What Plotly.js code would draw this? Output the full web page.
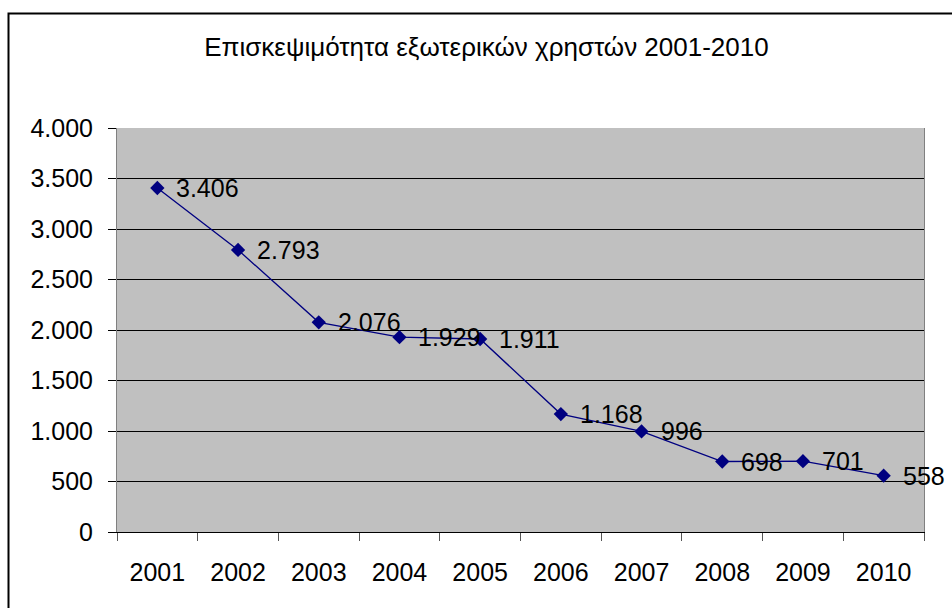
<!DOCTYPE html>
<html>
<head>
<meta charset="utf-8">
<script src="https://cdn.plot.ly/plotly-3.0.1.min.js"></script>
<style>
html,body{margin:0;padding:0;background:#fff;}
#chart{width:952px;height:608px;}
</style>
</head>
<body>
<div id="chart"></div>
<script>
const chartTitle = "Επισκεψιμότητα εξωτερικών χρηστών 2001-2010";
const years = ["2001","2002","2003","2004","2005","2006","2007","2008","2009","2010"];
const visitors = [3406, 2793, 2076, 1929, 1911, 1168, 996, 698, 701, 558];

function fmt(v){
  return String(v).replace(/\B(?=(\d{3})+(?!\d))/g, ".");
}

const FONT = "Arial, 'Liberation Sans', sans-serif";
const navy = "#000080";

const trace = {
  x: years,
  y: visitors,
  type: "scatter",
  mode: "lines+markers",
  line: {color: navy, width: 1.3},
  marker: {symbol: "diamond", size: 11, color: navy},
  hoverinfo: "skip",
  cliponaxis: false
};

const annotations = years.map((yr, i) => ({
  x: i, y: visitors[i], xref: "x", yref: "y",
  text: fmt(visitors[i]),
  showarrow: false,
  xanchor: "left", yanchor: "middle",
  xshift: 17, yshift: 0,
  font: {family: FONT, size: 25, color: "#000"}
}));

const layout = {
  width: 952, height: 608,
  margin: {l: 117, r: 28, t: 128, b: 76, pad: 0},
  paper_bgcolor: "#ffffff",
  plot_bgcolor: "#c0c0c0",
  separators: ",.",
  showlegend: false,
  font: {family: FONT, color: "#000"},
  title: {
    text: chartTitle,
    font: {family: FONT, size: 26, color: "#000"},
    xref: "container", x: 0.511, xanchor: "center",
    yref: "container", y: 1 - 47/608, yanchor: "middle"
  },
  xaxis: {
    type: "category",
    range: [-0.5, 9.5],
    showgrid: false,
    zeroline: false,
    showline: true, linecolor: "#000", linewidth: 1,
    ticks: "outside", tickson: "boundaries", ticklen: 8, tickwidth: 1, tickcolor: "#555",
    tickfont: {family: FONT, size: 25, color: "#000"},
    ticklabelstandoff: 18
  },
  yaxis: {
    range: [0, 4000],
    dtick: 500,
    tickformat: ",d",
    showgrid: true, gridcolor: "#000", gridwidth: 1,
    zeroline: false,
    showline: true, linecolor: "#808080", linewidth: 1, mirror: true,
    ticks: "outside", ticklen: 8, tickwidth: 1, tickcolor: "#000",
    tickfont: {family: FONT, size: 25, color: "#000"},
    ticklabelstandoff: 10
  },
  annotations: annotations,
  shapes: [{
    type: "rect", xref: "paper", yref: "paper",
    x0: (8.5 - 117) / 807, x1: 1.2,
    y0: -0.5, y1: (532 - 13.5) / 404,
    line: {color: "#000", width: 2},
    fillcolor: "rgba(0,0,0,0)",
    layer: "above"
  }]
};

Plotly.newPlot("chart", [trace], layout, {staticPlot: true, displayModeBar: false});
</script>
</body>
</html>
